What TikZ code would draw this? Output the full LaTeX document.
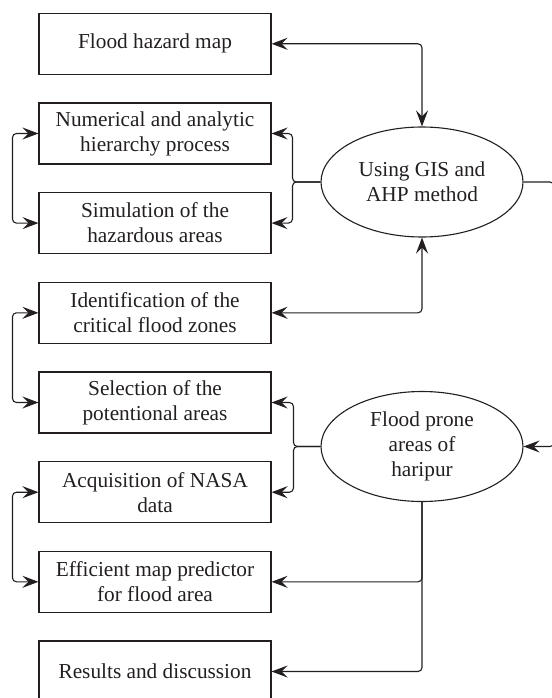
\documentclass[tikz,border=0pt]{standalone}
\usepackage{fontspec}
\setmainfont{Liberation Serif}
\usetikzlibrary{arrows.meta,positioning,calc,shapes.geometric}
\definecolor{ink}{HTML}{231F20}
\tikzset{
  boxnode/.style={draw=ink, line width=1.1pt, minimum width=232pt, minimum height=61pt, inner sep=0pt, align=center, text=ink, font=\fontsize{21.3}{25}\selectfont},
  ellnode/.style={draw=ink, line width=1.1pt, ellipse, minimum width=202pt, minimum height=110pt, inner sep=0pt, align=center, text=ink, font=\fontsize{21.3}{25}\selectfont},
  conn/.style={draw=ink, line width=1.1pt, rounded corners=4pt},
  tip/.tip={Stealth[length=16pt,width=12pt,inset=6pt]},
}
\begin{document}
\begin{tikzpicture}[x=1pt,y=-1pt]
\useasboundingbox (0,0) rectangle (551,698);
\node[boxnode] (b1) at (155,43.8) {Flood hazard map};
\node[boxnode] (b2) at (155,133.5) {Numerical and analytic\\hierarchy process};
\node[boxnode] (b3) at (155,223.1) {Simulation of the\\hazardous areas};
\node[boxnode] (b4) at (155,312.8) {Identification of the\\critical flood zones};
\node[boxnode] (b5) at (155,402.5) {Selection of the\\potentional areas};
\node[boxnode] (b6) at (155,492.2) {Acquisition of NASA\\data};
\node[boxnode] (b7) at (155,581.8) {Efficient map predictor\\for flood area};
\node[boxnode] (b8) at (155,671.5) {Results and discussion};
\node[ellnode] (e1) at (422,182) {Using GIS and\\AHP method};
\node[ellnode] (e2) at (422,446.5) {Flood prone\\areas of\\haripur};
% top ellipse links
\draw[conn,{tip}-{tip}] (b1.east) -| (e1.north);
\draw[conn,{tip}-{tip}] (b4.east) -| (e1.south);
\draw[conn,-{tip}] (e1.west) -- ++(-28,0) |- (b2.east);
\draw[conn,-{tip}] (e1.west) -- ++(-28,0) |- (b3.east);
% right link
\draw[conn,-{tip}] (e1.east) -- ++(30.5,0) |- (e2.east);
% lower ellipse links
\draw[conn,-{tip}] (e2.west) -- ++(-27,0) |- (b5.east);
\draw[conn,-{tip}] (e2.west) -- ++(-27,0) |- (b6.east);
\draw[conn,-{tip}] (e2.south) |- (b7.east);
\draw[conn,-{tip}] (e2.south) |- (b8.east);
% left links
\draw[conn,{tip}-{tip}] (b2.west) -- ++(-26,0) |- (b3.west);
\draw[conn,{tip}-{tip}] (b4.west) -- ++(-26,0) |- (b5.west);
\draw[conn,{tip}-{tip}] (b6.west) -- ++(-26,0) |- (b7.west);
\end{tikzpicture}
\end{document}
